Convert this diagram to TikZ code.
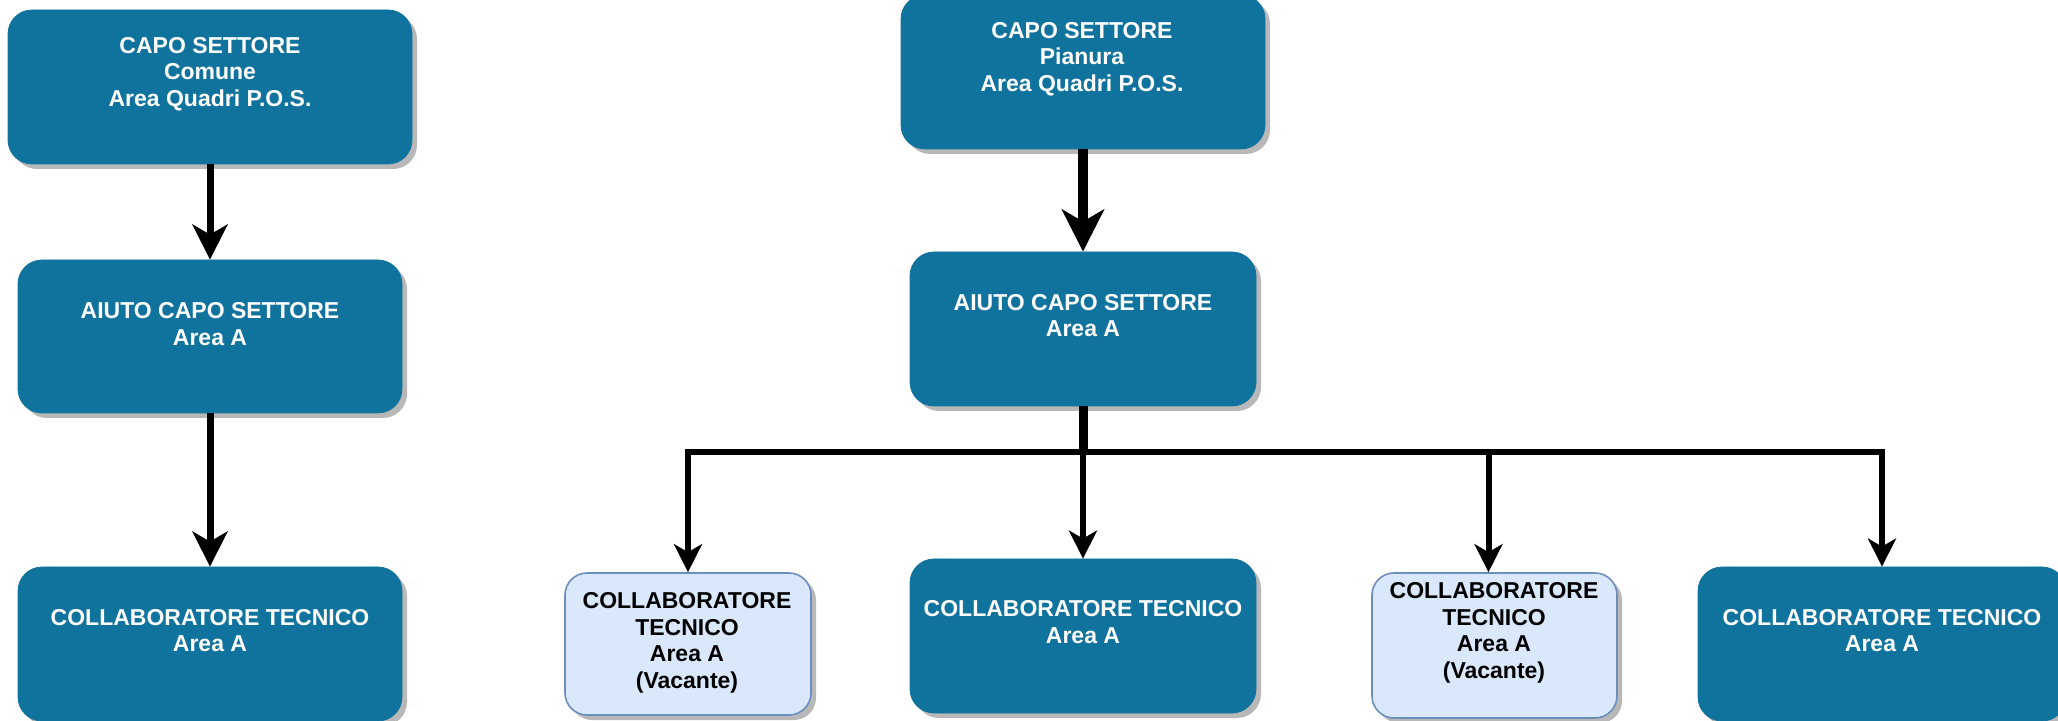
\documentclass[tikz,border=0pt]{standalone}
\usepackage{fontspec}
\setmainfont{Liberation Sans}
\usetikzlibrary{arrows.meta,shadows}
\definecolor{boxblue}{HTML}{10739E}
\definecolor{vacfill}{HTML}{DAE8FC}
\definecolor{vacline}{HTML}{6C8EBF}
\begin{document}
\begin{tikzpicture}[x=0.5pt,y=-0.5pt,
  shad/.style={drop shadow={shadow xshift=2.5pt, shadow yshift=-2.5pt, fill=black!28, opacity=1}},
  bluebox/.style={rectangle, rounded corners=12pt, fill=boxblue, draw=boxblue, shad, inner sep=0pt},
  vacbox/.style={rectangle, rounded corners=11pt, fill=vacfill, draw=vacline, line width=0.8pt, shad, inner sep=0pt},
  wtxt/.style={text=white, font=\bfseries\fontsize{11.5}{13.3}\selectfont, align=center, inner sep=0pt},
  btxt/.style={wtxt, text=black},
  conn/.style={line width=3.5pt, -{Stealth[length=17.5pt,width=17.5pt,inset=5pt]}},
  bigconn/.style={line width=5pt, -{Stealth[length=21pt,width=21pt,inset=6pt]}},
  branch/.style={line width=3pt, -{Stealth[length=14pt,width=14pt,inset=4pt]}}
]
\useasboundingbox (0,0) rectangle (2058,721);
\clip (0,0) rectangle (2058,721);

% boxes
\node[bluebox, minimum width=202pt, minimum height=77pt] (cs1) at (210,87) {};
\node[bluebox, minimum width=182pt, minimum height=77pt] (cs2) at (1083,72) {};
\node[bluebox, minimum width=192pt, minimum height=76.5pt] (a1) at (210,336.5) {};
\node[bluebox, minimum width=173pt, minimum height=77pt] (a2) at (1083,329) {};
\node[bluebox, minimum width=192pt, minimum height=77pt] (c1) at (210,644) {};
\node[vacbox, minimum width=123pt, minimum height=71pt] (v1) at (688,644) {};
\node[bluebox, minimum width=173pt, minimum height=77pt] (c2) at (1083,636) {};
\node[vacbox, minimum width=122.5pt, minimum height=72.5pt] (v2) at (1494.5,645.5) {};
\node[bluebox, minimum width=184pt, minimum height=77pt] (c3) at (1882,644) {};

% texts
\node[wtxt] (cs1t) at (210,74) {CAPO SETTORE\\Comune\\Area Quadri P.O.S.};
\node[wtxt] (cs2t) at (1082,59) {CAPO SETTORE\\Pianura\\Area Quadri P.O.S.};
\node[wtxt] (a1t) at (210,324) {AIUTO CAPO SETTORE\\Area A};
\node[wtxt] (a2t) at (1083,315.5) {AIUTO CAPO SETTORE\\Area A};
\node[wtxt] (c1t) at (210,630.5) {COLLABORATORE TECNICO\\Area A};
\node[btxt] (v1t) at (687,643) {COLLABORATORE\\TECNICO\\Area A\\(Vacante)};
\node[wtxt] (c2t) at (1083,622) {COLLABORATORE TECNICO\\Area A};
\node[btxt] (v2t) at (1494,633) {COLLABORATORE\\TECNICO\\Area A\\(Vacante)};
\node[wtxt] (c3t) at (1882,630.5) {COLLABORATORE TECNICO\\Area A};

% connectors
\draw[conn] (cs1) -- (a1);
\draw[conn] (a1) -- (c1);
\draw[bigconn] (cs2.south) -- (a2.north);
\coordinate (busc) at (1083,452);
\draw[line width=4.5pt] (a2.south) -- (busc);
\draw[branch] (busc) -| (v1.north);
\draw[branch] (busc) -- (c2.north);
\draw[branch] (busc) -| ([xshift=-3pt]v2.north);
\draw[branch] (busc) -| (c3.north);
\end{tikzpicture}
\end{document}
